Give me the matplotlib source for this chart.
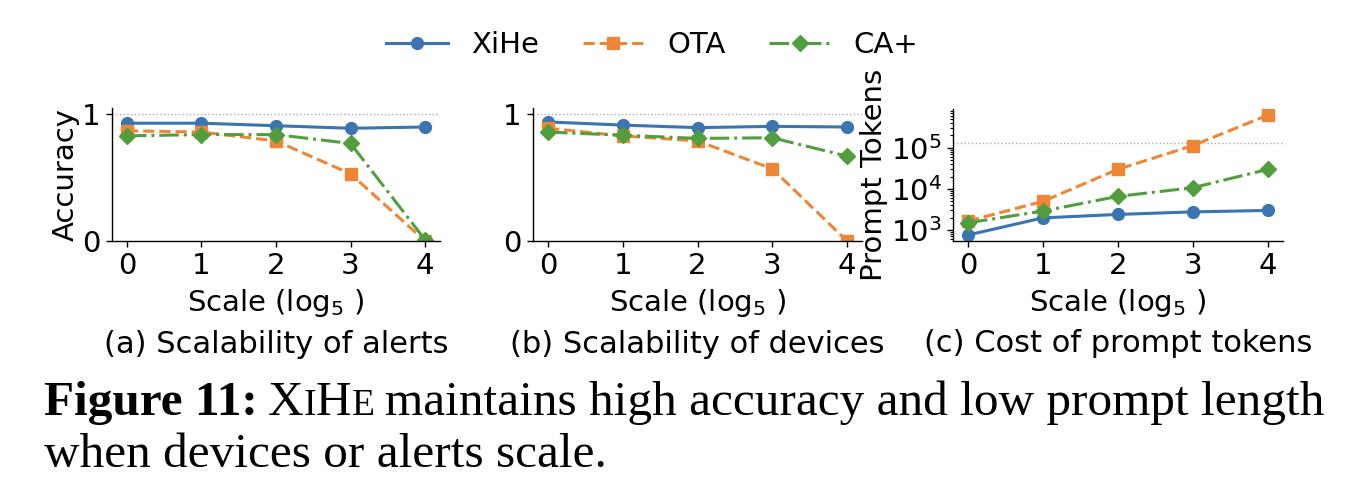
import numpy as np
import matplotlib
matplotlib.use('Agg')
import matplotlib.pyplot as plt
from matplotlib.lines import Line2D

# Data
scale = [0, 1, 2, 3, 4]

alerts_xihe = [0.93, 0.93, 0.91, 0.89, 0.90]
alerts_ota = [0.87, 0.86, 0.79, 0.53, 0.0]
alerts_ca = [0.83, 0.84, 0.84, 0.77, 0.01]

devices_xihe = [0.94, 0.915, 0.895, 0.905, 0.90]
devices_ota = [0.89, 0.83, 0.79, 0.57, 0.0]
devices_ca = [0.86, 0.835, 0.81, 0.815, 0.67]

tokens_xihe = [760, 1980, 2400, 2770, 3000]
tokens_ota = [1650, 5000, 30000, 113000, 624000]
tokens_ca = [1500, 2900, 6600, 10700, 30000]

token_limit = 128000

methods = ['XiHe', 'OTA', 'CA+']
colors = ['#3A74B1', '#EF8636', '#519E3E']
styles = ['-', '--', '-.']
markers = ['o', 's', 'D']
msizes = [8.5, 8, 8.5]

subcaptions = ['(a) Scalability of alerts', '(b) Scalability of devices',
               '(c) Cost of prompt tokens']

FS = 21
W, H = 1362, 488

fig = plt.figure(figsize=(W / 100, H / 100), dpi=100)

# axes boxes in pixels: left, right, top, bottom
boxes = [(112, 440, 108, 241), (533, 862, 108, 241), (953, 1283, 109, 241)]
axes = []
for l, r, t, b in boxes:
    ax = fig.add_axes([l / W, 1 - b / H, (r - l) / W, (b - t) / H])
    axes.append(ax)

series = [
    [alerts_xihe, alerts_ota, alerts_ca],
    [devices_xihe, devices_ota, devices_ca],
    [tokens_xihe, tokens_ota, tokens_ca],
]

for i, ax in enumerate(axes):
    for j, ys in enumerate(series[i]):
        ax.plot(scale, ys, linestyle=styles[j], marker=markers[j], color=colors[j],
                lw=2.2, ms=msizes[j], label=methods[j])
    for s in ['top', 'right']:
        ax.spines[s].set_visible(False)
    for s in ['left', 'bottom']:
        ax.spines[s].set_linewidth(1.0)
    ax.set_xticks(scale)
    ax.tick_params(labelsize=FS, width=1.0, length=4.5)
    ax.set_xlabel('Scale (log$_5$ )', fontsize=FS, labelpad=5)
    ax.text(0.5, -0.84, subcaptions[i], transform=ax.transAxes, ha='center',
            va='baseline', fontsize=22)

for ax in axes[:2]:
    ax.axhline(1, color='#aaaaaa', lw=1.0, ls=':', zorder=0)
    ax.set_ylim(0, 1.05)
    ax.set_yticks([0, 1])
axes[0].set_ylabel('Accuracy', fontsize=FS, labelpad=2)

axes[2].set_yscale('log')
axes[2].axhline(token_limit, color='#aaaaaa', lw=1.0, ls=':', zorder=0)
axes[2].set_ylabel('Prompt Tokens', fontsize=FS, labelpad=2)
axes[2].tick_params(which='minor', width=0.8, length=2.5)

handles = [Line2D([], [], linestyle=styles[j], marker=markers[j], color=colors[j],
                  lw=2.2, ms=msizes[j]) for j in range(3)]
fig.legend(handles, methods, loc='center', bbox_to_anchor=(0.479, 0.908),
           ncol=3, frameon=False, fontsize=FS, handlelength=2.1,
           handletextpad=0.8, columnspacing=1.5)

# Caption, built piece by piece to mimic small caps
serif = 'Liberation Serif'
CFS = 35.5
renderer = fig.canvas.get_renderer()
pieces = [
    ('Figure 11:', CFS, 'bold', 10),
    ('X', CFS, 'normal', 0),
    ('I', CFS * 0.76, 'normal', 0),
    ('H', CFS, 'normal', 0),
    ('E', CFS * 0.76, 'normal', 10),
    ('maintains high accuracy and low prompt length', CFS, 'normal', 0),
]
x = 44
y1 = 1 - 415 / H
for s, size, weight, gap in pieces:
    t = fig.text(x / W, y1, s, fontsize=size, fontweight=weight, family=serif,
                 va='baseline', ha='left')
    bb = t.get_window_extent(renderer)
    x = bb.x1 + gap
fig.text(44 / W, 1 - 467 / H, 'when devices or alerts scale.', fontsize=CFS,
         family=serif, va='baseline', ha='left')

fig.savefig('out.png', dpi=100)
